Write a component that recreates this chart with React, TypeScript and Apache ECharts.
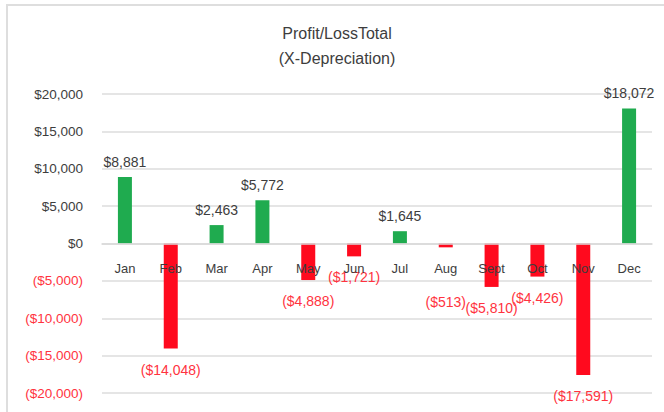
import React, { useEffect, useRef } from "react";
import * as echarts from "echarts";

const months = ["Jan", "Feb", "Mar", "Apr", "May", "Jun", "Jul", "Aug", "Sept", "Oct", "Nov", "Dec"];
const profitLoss = [8881, -14048, 2463, 5772, -4888, -1721, 1645, -513, -5810, -4426, -17591, 18072];
const yTicks = { min: -20000, max: 20000, interval: 5000 };
const titleLines = ["Profit/LossTotal", "(X-Depreciation)"];

const GREEN = "#1fab4f";
const RED = "#ff0a1e";
const RED_TEXT = "#ff3340";
const GRAY_TEXT = "#3d3d3d";
const FONT = "'Liberation Sans', Arial, Helvetica, sans-serif";

const GRID_TOP = 94;
const GRID_BOTTOM = 19;
const CHART_H = 412;

const fmt = (v: number) => {
  const s = "$" + Math.abs(v).toLocaleString("en-US");
  return v < 0 ? "(" + s + ")" : s;
};

export default function App() {
  const ref = useRef<HTMLDivElement>(null);
  useEffect(() => {
    if (!ref.current) return;
    const chart = echarts.init(ref.current, null, { renderer: "svg" });
    // distance from plot bottom up to the zero line (value axis is linear)
    const plotH = CHART_H - GRID_TOP - GRID_BOTTOM;
    const zeroOffset = (plotH * (0 - yTicks.min)) / (yTicks.max - yTicks.min);
    chart.setOption({
      animation: false,
      backgroundColor: "#ffffff",
      textStyle: { fontFamily: FONT },
      graphic: [
        {
          type: "rect",
          z: -1,
          shape: { x: 7, y: 5, width: 720, height: 460 },
          style: { fill: "none", stroke: "#dedede", lineWidth: 2 },
        },
        {
          type: "text",
          x: 337,
          y: 33,
          style: {
            text: titleLines[0],
            fontSize: 16,
            fontFamily: FONT,
            fill: GRAY_TEXT,
            textAlign: "center",
            textVerticalAlign: "middle",
          },
        },
        {
          type: "text",
          x: 337,
          y: 58,
          style: {
            text: titleLines[1],
            fontSize: 16,
            fontFamily: FONT,
            fill: GRAY_TEXT,
            textAlign: "center",
            textVerticalAlign: "middle",
          },
        },
      ],
      grid: {
        left: 102,
        right: 12,
        top: GRID_TOP,
        bottom: GRID_BOTTOM,
        containLabel: false,
        outerBoundsMode: "none",
      },
      xAxis: {
        type: "category",
        data: months,
        z: 10,
        position: "bottom",
        offset: -zeroOffset,
        axisLine: { onZero: false, lineStyle: { color: "#d9d9d9", width: 1.5 } },
        axisTick: { show: false },
        axisLabel: { margin: 18, fontSize: 13, color: GRAY_TEXT, fontFamily: FONT },
        splitLine: { show: false },
      },
      yAxis: {
        type: "value",
        min: yTicks.min,
        max: yTicks.max,
        interval: yTicks.interval,
        axisLine: { show: false },
        axisTick: { show: false },
        axisLabel: {
          margin: 19,
          fontSize: 13.5,
          fontFamily: FONT,
          formatter: (v: number) => fmt(v),
          color: (v: any) => (Number(v) < 0 ? RED_TEXT : GRAY_TEXT),
        },
        splitLine: { lineStyle: { color: "#dcdcdc", width: 1.5 } },
      },
      series: [
        {
          type: "bar",
          barWidth: 14,
          z: 2,
          data: profitLoss.map((v, i) => ({
            value: v,
            itemStyle: { color: v >= 0 ? GREEN : RED },
            label: {
              show: true,
              position: v >= 0 ? "top" : "bottom",
              distance: v >= 0 ? 8 : 14,
              offset: months[i] === "Aug" ? [0, 34] : [0, 0],
              color: v >= 0 ? GRAY_TEXT : RED_TEXT,
              fontSize: 14,
              fontFamily: FONT,
              formatter: () => fmt(v),
            },
          })),
        },
      ],
    });
    return () => chart.dispose();
  }, []);
  return (
    <div
      ref={ref}
      style={{ position: "fixed", left: 0, top: 0, width: 664, height: 412 }}
    />
  );
}
